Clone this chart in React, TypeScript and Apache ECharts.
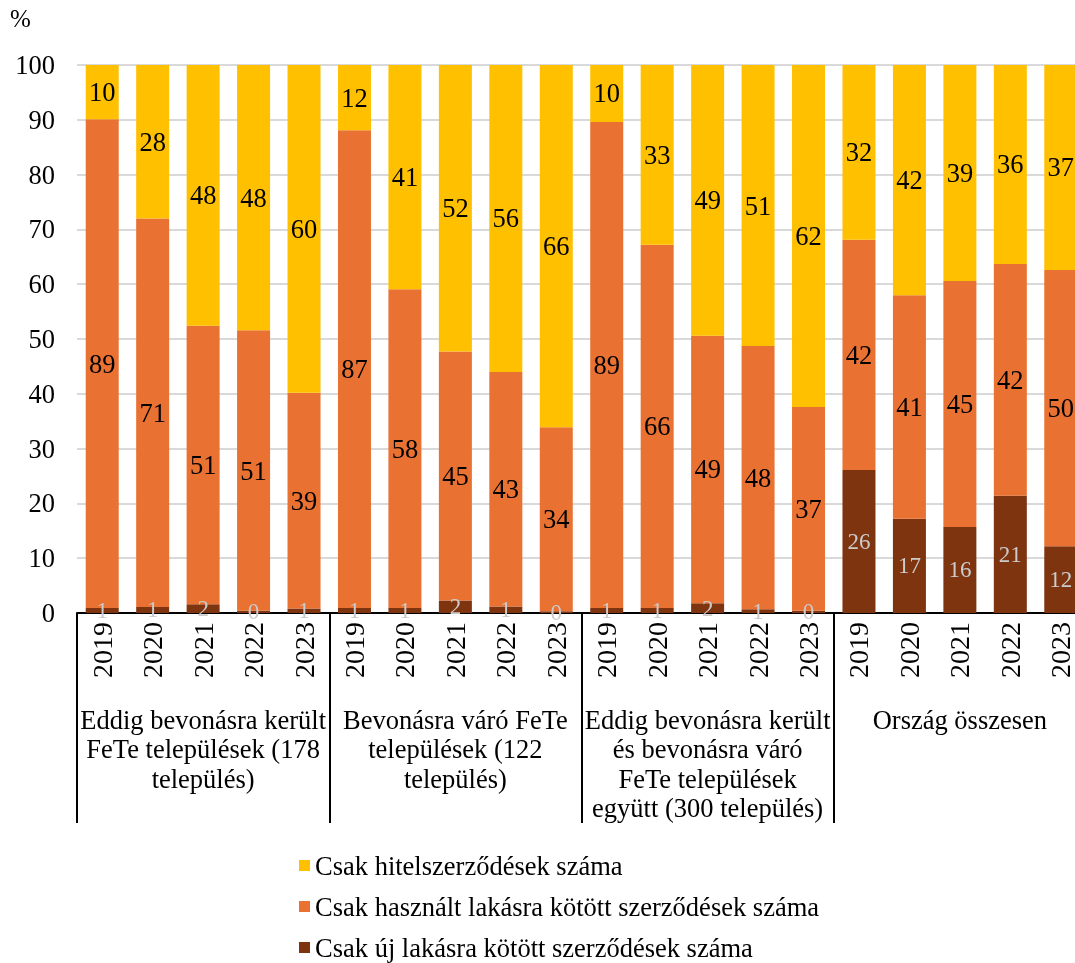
import React, { useEffect, useRef } from "react";
import * as echarts from "echarts";

const years = ["2019", "2020", "2021", "2022", "2023"];
const groups = [
  "Eddig bevonásra került\nFeTe települések (178\ntelepülés)",
  "Bevonásra váró FeTe\ntelepülések (122\ntelepülés)",
  "Eddig bevonásra került\nés bevonásra váró\nFeTe települések\negyütt (300 település)",
  "Ország összesen",
];
const categories = groups.flatMap((g, gi) => years.map((y) => `${gi}|${y}`));

const seriesNames = [
  "Csak új lakásra kötött szerződések száma",
  "Csak használt lakásra kötött szerződések száma",
  "Csak hitelszerződések száma",
];

const newHome = [
  0.9, 1.1, 1.6, 0.4, 0.8,
  0.9, 0.9, 2.3, 1.2, 0.3,
  0.9, 0.9, 1.8, 0.7, 0.4,
  26.1, 17.2, 15.7, 21.4, 12.2,
];
const usedHome = [
  89.2, 70.9, 50.8, 51.2, 39.4,
  87.2, 58.2, 45.4, 42.8, 33.6,
  88.7, 66.3, 48.8, 48.0, 37.2,
  42.0, 40.8, 44.9, 42.3, 50.4,
];
const loanOnly = [
  9.9, 28.0, 47.6, 48.4, 59.8,
  11.9, 40.9, 52.3, 56.0, 66.1,
  10.4, 32.8, 49.4, 51.3, 62.4,
  31.9, 42.0, 39.4, 36.3, 37.4,
];

const colors = ["#7F3410", "#E97132", "#FFC000"];
const FONT = "Liberation Serif";

export default function App() {
  const ref = useRef<HTMLDivElement>(null);
  useEffect(() => {
    document.body.style.margin = "0";
    document.body.style.overflow = "hidden";
    const chart = echarts.init(ref.current!, null, { renderer: "svg" });
    const dataArrays = [newHome, usedHome, loanOnly];
    chart.setOption({
      animation: false,
      textStyle: { fontFamily: FONT },
      title: {
        text: "%",
        left: 10,
        top: 6,
        padding: 0,
        textStyle: { fontFamily: FONT, fontSize: 25, fontWeight: "normal", color: "#000" },
      },
      legend: {
        orient: "vertical",
        left: 299,
        top: 852,
        padding: 0,
        itemGap: 14,
        itemWidth: 11,
        itemHeight: 11,
        icon: "rect",
        data: [seriesNames[2], seriesNames[1], seriesNames[0]],
        textStyle: { fontFamily: FONT, fontSize: 26.5, lineHeight: 26, color: "#000" },
      },
      grid: { left: 77, top: 65, width: 1009, height: 548, containLabel: false },
      xAxis: [
        {
          type: "category",
          data: categories,
          axisLine: { show: true, lineStyle: { color: "#000", width: 2 } },
          axisTick: { show: false },
          axisLabel: {
            interval: 0,
            rotate: 90,
            margin: 9,
            fontFamily: FONT,
            fontSize: 28,
            color: "#000",
            formatter: (v: string) => v.split("|")[1],
          },
        },
        {
          type: "category",
          data: groups,
          position: "bottom",
          axisLine: { show: false },
          axisTick: { show: true, interval: 0, length: 210, lineStyle: { color: "#000", width: 2 } },
          axisLabel: {
            interval: 0,
            margin: 92,
            fontFamily: FONT,
            fontSize: 26.5,
            lineHeight: 29.5,
            color: "#000",
            verticalAlign: "top",
          },
        },
      ],
      yAxis: {
        type: "value",
        min: 0,
        max: 100,
        interval: 10,
        axisLine: { show: false },
        axisTick: { show: false },
        splitLine: { lineStyle: { color: "#D9D9D9", width: 2 } },
        axisLabel: { margin: 22, fontFamily: FONT, fontSize: 26.5, color: "#000" },
      },
      series: seriesNames.map((name, i) => ({
        name,
        type: "bar",
        stack: "total",
        xAxisIndex: 0,
        barWidth: 33,
        data: dataArrays[i],
        itemStyle: { color: colors[i] },
        label: {
          show: true,
          position: "inside",
          fontFamily: FONT,
          fontSize: i === 0 ? 23 : 26.5,
          color: i === 0 ? "#CBCBCB" : "#000",
          formatter: (p: any) => String(Math.round(p.value)),
        },
      })),
    });
    return () => chart.dispose();
  }, []);
  return (
    <div
      ref={ref}
      style={{ position: "fixed", left: 0, top: 0, width: 1095, height: 963 }}
    />
  );
}
